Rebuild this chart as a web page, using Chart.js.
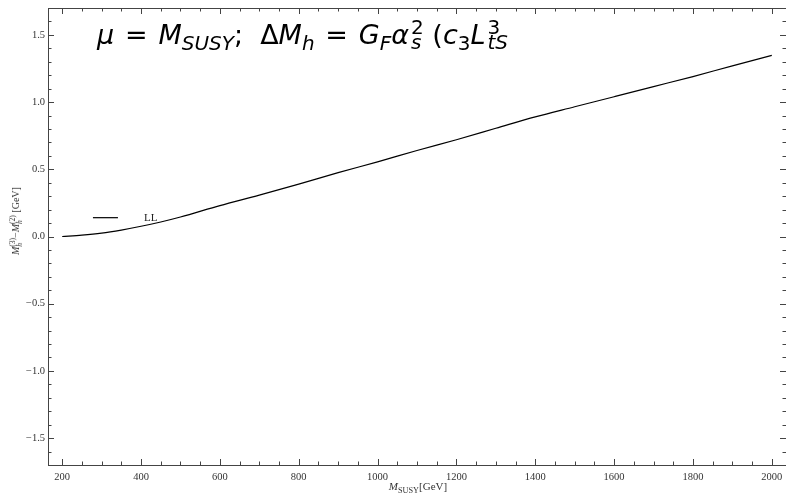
<!doctype html>
<html>
<head>
<meta charset="utf-8">
<title>M_h(3) - M_h(2) vs M_SUSY</title>
<script src="https://cdn.jsdelivr.net/npm/chart.js@4.4.0/dist/chart.umd.min.js"></script>
<style>
  body { margin: 0; background: #fff; }
  #wrap { position: relative; width: 786px; height: 495px; overflow: hidden; }
  #title {
    position: absolute; left: 97px; top: 20px;
    font-family: "DejaVu Sans", sans-serif; font-size: 27px; color: #000;
    white-space: nowrap; line-height: 1;
  }
  #title sub { font-size: 0.74em; vertical-align: -0.28em; }
  #title .op { margin: 0 0.4em; }
  #title .ss { display: inline-flex; flex-direction: column; font-size: 20px; line-height: 15px; vertical-align: 10px; margin-left: 2px; }
  .ytitle {
    position: absolute; left: 16px; top: 221px;
    transform: translate(-50%, -50%) rotate(-90deg);
    font-family: "Liberation Serif", serif; font-size: 10px; color: #333; white-space: nowrap;
  }
  .ytitle .ss { display: inline-flex; flex-direction: column; font-size: 7.5px; line-height: 7px; vertical-align: 4px; }
  .xtitle {
    position: absolute; left: 418px; top: 480px; transform: translateX(-50%);
    font-family: "Liberation Serif", serif; font-size: 11px; color: #333; white-space: nowrap;
  }
  .xtitle sub { font-size: 0.75em; }
</style>
</head>
<body>
<div id="wrap">
  <canvas id="myChart" width="786" height="495"></canvas>
  <div id="title"><i>μ</i><span class="op">=</span><i>M</i><sub><i>SUSY</i></sub>;&nbsp; Δ<i>M</i><sub><i>h</i></sub><span class="op">=</span><i>G</i><sub><i>F</i></sub><i>α</i><span class="ss"><span>2</span><i>s</i></span>&nbsp;(<i>c</i><sub>3</sub><i>L</i><span class="ss"><span>3</span><i>tS</i></span></div>
  <div class="ytitle"><i>M</i><span class="ss"><span>(3)</span><i>h</i></span>−<i>M</i><span class="ss"><span>(2)</span><i>h</i></span> [GeV]</div>
  <div class="xtitle"><i>M</i><sub>SUSY</sub>[GeV]</div>
</div>
<script>
  // M_SUSY in GeV
  const msusy = [200, 250, 300, 350, 400, 450, 500, 600, 700, 800, 900, 1000,
                 1100, 1200, 1300, 1400, 1500, 1600, 1700, 1800, 1900, 2000];
  // M_h^(3) - M_h^(2) in GeV, LL curve
  const deltaLL = [0.000, 0.010, 0.025, 0.048, 0.076, 0.108, 0.145, 0.230, 0.308, 0.390, 0.475, 0.555,
                   0.640, 0.720, 0.805, 0.890, 0.965, 1.040, 1.115, 1.190, 1.270, 1.347];

  const xTicks = [200, 400, 600, 800, 1000, 1200, 1400, 1600, 1800, 2000];
  const yTicks = [-1.5, -1.0, -0.5, 0.0, 0.5, 1.0, 1.5];
  const xMinorStep = 50;
  const yMinorStep = 0.1;

  const frameColor = '#444';

  // Mathematica style frame with inward ticks on all sides
  const frameTicks = {
    id: 'frameTicks',
    afterDraw(chart) {
      const {ctx, chartArea: a, scales: {x, y}} = chart;
      ctx.save();
      ctx.strokeStyle = frameColor;
      ctx.lineWidth = 1;
      ctx.strokeRect(a.left + 0.5, a.top + 0.5, a.right - a.left, a.bottom - a.top);
      ctx.beginPath();
      for (let v = Math.ceil(x.min / xMinorStep) * xMinorStep; v <= x.max; v += xMinorStep) {
        const len = xTicks.includes(v) ? 6 : 3.5;
        const px = Math.round(x.getPixelForValue(v)) + 0.5;
        ctx.moveTo(px, a.bottom); ctx.lineTo(px, a.bottom - len);
        ctx.moveTo(px, a.top); ctx.lineTo(px, a.top + len);
      }
      for (let i = Math.ceil(y.min / yMinorStep); i * yMinorStep <= y.max + 1e-9; i++) {
        const v = +(i * yMinorStep).toFixed(2);
        const len = yTicks.some(t => Math.abs(t - v) < 1e-9) ? 6 : 3.5;
        const py = Math.round(y.getPixelForValue(v)) + 0.5;
        ctx.moveTo(a.left, py); ctx.lineTo(a.left + len, py);
        ctx.moveTo(a.right, py); ctx.lineTo(a.right - len, py);
      }
      ctx.stroke();

      // legend
      const ds = chart.data.datasets[0];
      const lx = x.getPixelForValue(278), ly = y.getPixelForValue(0.14);
      ctx.strokeStyle = ds.borderColor;
      ctx.lineWidth = ds.borderWidth;
      ctx.beginPath();
      ctx.moveTo(lx, ly); ctx.lineTo(lx + 25, ly);
      ctx.stroke();
      ctx.fillStyle = '#222';
      ctx.font = '11px "Liberation Serif", serif';
      ctx.textBaseline = 'middle';
      ctx.fillText(ds.label, lx + 51, ly);
      ctx.restore();
    }
  };

  const fmt = v => {
    const s = Math.abs(v).toFixed(1);
    return v < 0 ? '\u2212' + s : s;
  };

  const ctx = document.getElementById('myChart').getContext('2d');
  const myChart = new Chart(ctx, {
    type: 'line',
    data: {
      labels: msusy,
      datasets: [{
        label: 'LL',
        data: msusy.map((m, i) => ({x: m, y: deltaLL[i]})),
        borderColor: '#000',
        borderWidth: 1.2,
        pointRadius: 0,
        cubicInterpolationMode: 'monotone',
        fill: false,
      }]
    },
    options: {
      responsive: false,
      animation: false,
      layout: { padding: { top: 8, right: 0, left: 0, bottom: 0 } },
      plugins: { legend: { display: false }, tooltip: { enabled: false } },
      scales: {
        x: {
          type: 'linear',
          min: 164, max: 2036,
          afterBuildTicks: s => { s.ticks = xTicks.map(v => ({value: v})); },
          afterFit: s => { s.height = 30; s.paddingLeft = 0; s.paddingRight = 0; },
          grid: { display: false, drawTicks: false },
          border: { display: false },
          ticks: {
            padding: 6, color: '#333', maxRotation: 0,
            font: { family: '"Liberation Serif", serif', size: 10.5 },
            callback: v => String(v),
          },
        },
        y: {
          min: -1.7, max: 1.7,
          afterBuildTicks: s => { s.ticks = yTicks.map(v => ({value: v})); },
          afterFit: s => { s.width = 48; s.paddingTop = 0; s.paddingBottom = 0; },
          grid: { display: false, drawTicks: false },
          border: { display: false },
          ticks: {
            padding: 3, color: '#333',
            font: { family: '"Liberation Serif", serif', size: 10.5 },
            callback: v => fmt(v),
          },
        }
      }
    },
    plugins: [frameTicks]
  });
</script>
</body>
</html>
